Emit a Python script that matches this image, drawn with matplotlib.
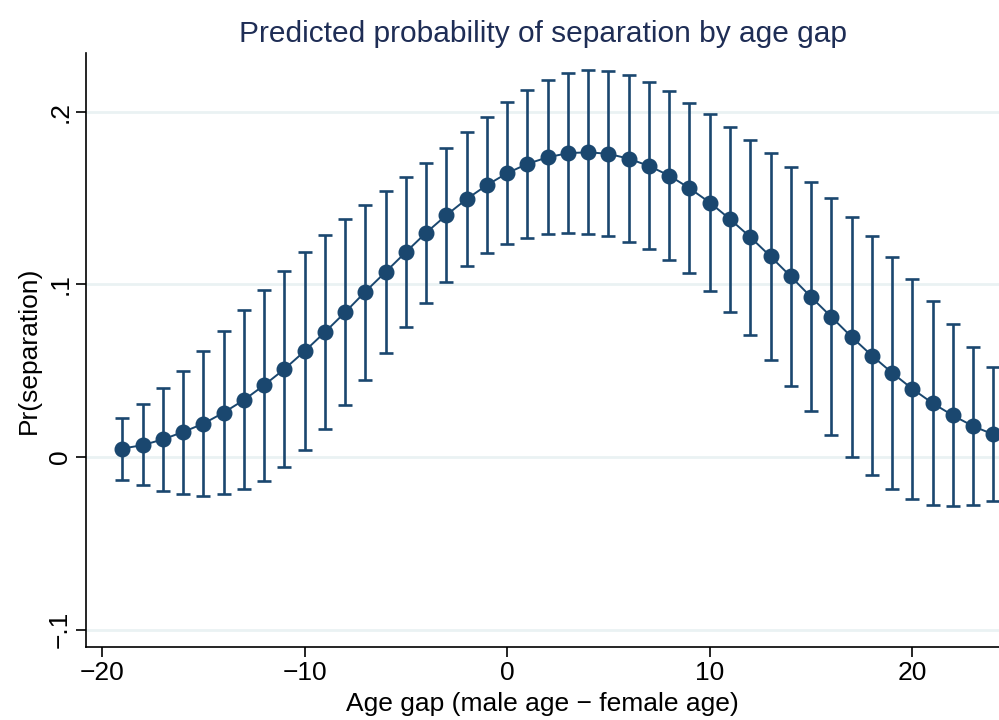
import matplotlib
matplotlib.use("Agg")
import matplotlib.pyplot as plt

plt.rcParams["font.family"] = ["Liberation Sans", "DejaVu Sans"]

# Predicted margins with 95% CIs, one per age gap value
age_gap = list(range(-19, 25))
pr_sep = [0.0049, 0.0069, 0.0102, 0.0145, 0.0193, 0.0257, 0.0330, 0.0416, 0.0509, 0.0613,
          0.0723, 0.0838, 0.0958, 0.1072, 0.1187, 0.1299, 0.1401, 0.1494, 0.1575, 0.1644,
          0.1698, 0.1736, 0.1760, 0.1765, 0.1756, 0.1728, 0.1686, 0.1630, 0.1557, 0.1474,
          0.1378, 0.1274, 0.1162, 0.1046, 0.0927, 0.0812, 0.0696, 0.0588, 0.0488, 0.0395,
          0.0312, 0.0241, 0.0179, 0.0131]
ci_hi = [0.0226, 0.0306, 0.0397, 0.0501, 0.0613, 0.0728, 0.0850, 0.0968, 0.1079, 0.1187,
         0.1285, 0.1378, 0.1462, 0.1543, 0.1624, 0.1705, 0.1792, 0.1883, 0.1969, 0.2054,
         0.2127, 0.2183, 0.2222, 0.2239, 0.2235, 0.2212, 0.2172, 0.2118, 0.2052, 0.1987,
         0.1912, 0.1838, 0.1763, 0.1680, 0.1592, 0.1499, 0.1393, 0.1282, 0.1160, 0.1031,
         0.0902, 0.0769, 0.0640, 0.0520]
ci_lo = [-0.0133, -0.0164, -0.0194, -0.0216, -0.0223, -0.0216, -0.0187, -0.0137, -0.0060, 0.0043,
         0.0162, 0.0299, 0.0449, 0.0603, 0.0754, 0.0890, 0.1012, 0.1106, 0.1181, 0.1233,
         0.1268, 0.1289, 0.1297, 0.1293, 0.1278, 0.1247, 0.1202, 0.1141, 0.1064, 0.0962,
         0.0842, 0.0707, 0.0563, 0.0414, 0.0264, 0.0125, 0.0000, -0.0104, -0.0185, -0.0243,
         -0.0275, -0.0285, -0.0277, -0.0254]

xticks = [-20, -10, 0, 10, 20]
xtick_labels = ["\u221220", "\u221210", "0", "10", "20"]
yticks = [-0.1, 0, 0.1, 0.2]
ytick_labels = ["\u2212.1", "0", ".1", ".2"]

navy = "#1a476f"

fig = plt.figure(figsize=(9.99, 7.2), dpi=100)
ax = fig.add_axes([0.0861, 0.1014, 0.9139, 0.825])

ax.set_xlim(-20.79, 24.28)
ax.set_ylim(-0.110, 0.234)

for y in yticks:
    ax.axhline(y, color="#eaf2f3", lw=2, zorder=0)

lower = [p - lo for p, lo in zip(pr_sep, ci_lo)]
upper = [hi - p for p, hi in zip(pr_sep, ci_hi)]
ax.errorbar(age_gap, pr_sep, yerr=[lower, upper], fmt="none", ecolor=navy,
            elinewidth=1.9, capsize=4.8, capthick=1.9, zorder=2)
ax.plot(age_gap, pr_sep, color=navy, lw=1.4, marker="o", markersize=10.5,
        markerfacecolor=navy, markeredgecolor=navy, zorder=3, clip_on=False)

ax.set_xticks(xticks)
ax.set_xticklabels(xtick_labels)
ax.set_yticks(yticks)
ax.set_yticklabels(ytick_labels, rotation=90, va="center")

ax.tick_params(axis="both", direction="out", length=7, width=1.2,
               labelsize=19, color="black")
ax.tick_params(axis="x", pad=3)
ax.tick_params(axis="y", pad=3)

for side in ["top", "right"]:
    ax.spines[side].set_visible(False)
for side in ["left", "bottom"]:
    ax.spines[side].set_linewidth(1.2)

ax.set_xlabel("Age gap (male age \u2212 female age)", fontsize=19, labelpad=5)
ax.set_ylabel("Pr(separation)", fontsize=19, labelpad=5)

# title centred over the plot region
ax.set_title("Predicted probability of separation by age gap", fontsize=21.5,
             color="#1e2d55", pad=8)

fig.savefig("out.png", dpi=100)
